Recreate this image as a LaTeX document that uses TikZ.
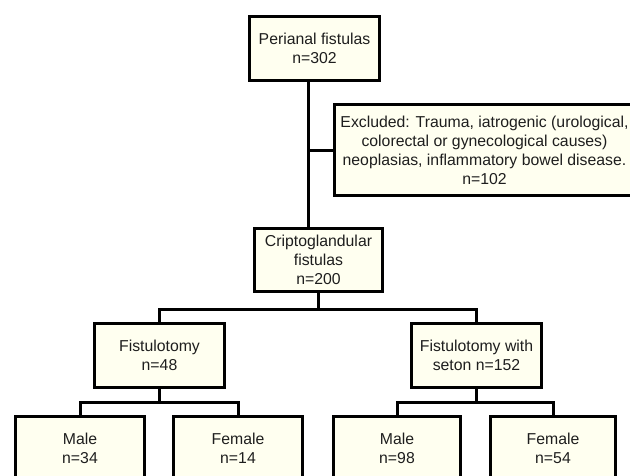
\documentclass[tikz,border=0pt]{standalone}
\usepackage{fontspec}
\setmainfont{Liberation Sans}
\definecolor{boxfill}{RGB}{255,255,240}
\definecolor{txt}{RGB}{30,30,30}
\begin{document}
\begin{tikzpicture}[x=1pt,y=-1pt,
  fbox/.style={draw=black,line width=3pt,fill=boxfill,align=center,inner sep=0pt,
    minimum width=130pt,minimum height=64pt,text=txt,
    font=\fontsize{15.8}{19}\selectfont,
    execute at begin node={\rule{0pt}{#1}}},
  fbox/.default=16.5pt,
  conn/.style={line width=3pt,draw=black}]
\useasboundingbox (0,0) rectangle (630,475);
\node[fbox] (top) at (314.5,48.5) {Perianal fistulas\\n=302};
\node[fbox=13.5pt,minimum width=300pt,minimum height=91pt] (excl) at (484.5,150) {Excluded: Trauma, iatrogenic (urological,\\colorectal or gynecological causes)\\neoplasias, inflammatory bowel disease.\\n=102};
\node[fbox=15pt,minimum width=128pt,minimum height=63pt] (cripto) at (318.5,260) {Criptoglandular\\fistulas\\n=200};
\node[fbox=15pt] (fist) at (159.5,355.5) {Fistulotomy\\n=48};
\node[fbox=15pt] (seton) at (476.5,355.5) {Fistulotomy with\\seton n=152};
\node[fbox,minimum width=129pt] (m1) at (80,448.5) {Male\\n=34};
\node[fbox,minimum width=129pt] (f1) at (238,448.5) {Female\\n=14};
\node[fbox,minimum width=127pt] (m2) at (397,448.5) {Male\\n=98};
\node[fbox,minimum width=125pt] (f2) at (553,448.5) {Female\\n=54};
\coordinate (trunk) at (308,0);
\coordinate (b1) at (0,309);
\coordinate (b2) at (0,402);
\draw[conn] ([xshift=-6.5pt]top.south) -- (trunk |- cripto.north);
\draw[conn] (trunk |- excl.west) -- (excl.west);
\draw[conn] (cripto.south) -- (cripto.south |- b1);
\draw[conn] (fist.north) -- (fist.north |- b1) -- (seton.north |- b1) -- (seton.north);
\draw[conn] (fist.south) -- (fist.south |- b2);
\draw[conn] (m1.north) -- (m1.north |- b2) -- (f1.north |- b2) -- (f1.north);
\draw[conn] (seton.south) -- (seton.south |- b2);
\draw[conn] (m2.north) -- (m2.north |- b2) -- (f2.north |- b2) -- (f2.north);
\end{tikzpicture}
\end{document}
